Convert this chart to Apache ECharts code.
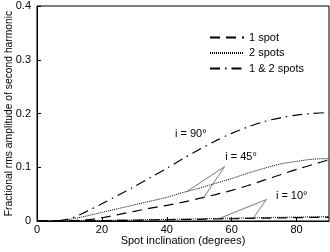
<!DOCTYPE html>
<html><head><meta charset="utf-8">
<script src="https://cdn.jsdelivr.net/npm/echarts@6/dist/echarts.min.js"></script>
<style>html,body{margin:0;padding:0;background:#fff}#c{width:330px;height:252px}</style>
</head><body><div id="c"></div>
<script>
var inclination = [0,5,10,15,20,25,30,35,40,45,50,55,60,65,70,75,80,85,90];
var both90 = [0,0,0.004,0.017,0.032,0.048,0.064,0.081,0.098,0.116,0.133,0.149,0.163,0.175,0.185,0.192,0.197,0.200,0.202];
var twoSpots45 = [0,0.0005,0.003,0.009,0.016,0.023,0.030,0.037,0.044,0.053,0.061,0.070,0.079,0.089,0.098,0.106,0.111,0.115,0.116];
var oneSpot45 = [0,0,0.0005,0.002,0.006,0.012,0.018,0.024,0.029,0.035,0.042,0.049,0.057,0.066,0.076,0.086,0.096,0.105,0.114];
var twoSpots10 = [0,0,0.0002,0.0006,0.001,0.0016,0.002,0.0027,0.003,0.0036,0.004,0.0047,0.0052,0.0058,0.0063,0.0069,0.0073,0.0077,0.008];
var oneSpot10 = [0,0,0.0001,0.0003,0.0006,0.001,0.0014,0.0019,0.0023,0.0028,0.0032,0.0037,0.0042,0.0047,0.0052,0.0057,0.0062,0.0066,0.007];
var yTicks = [0,0.1,0.2,0.3,0.4];
var xTicks = [0,20,40,60,80];
var legendNames = ['1 spot','2 spots','1 & 2 spots'];
var labelTexts = ['i = 90\u00b0','i = 45\u00b0','i = 10\u00b0'];
var labelCoords = [[47.4,0.162],[62.9,0.119],[78.5,0.0465]];
var leaders45 = [[[57.8,0.101],[46.1,0.0545]],[[57.8,0.101],[51.2,0.042]]];
var leaders10 = [[[70.7,0.040],[56.3,0.005]],[[70.7,0.040],[66.6,0.005]]];

function pairs(ys){return inclination.map(function(x,i){return [x,ys[i]];});}
var FONT = 'Liberation Sans';
var dashStyle = {color:'#000',width:1.2,type:[10,6]};
var dotStyle = {color:'#000',width:1,type:[1,1]};
var dashDotStyle = {color:'#000',width:1.2,type:[10,5,1.5,5]};
function lineSeries(name, ys, style, extra){
  var s = {name:name,type:'line',data:pairs(ys),showSymbol:false,symbol:'none',smooth:0.3,
    lineStyle:style,itemStyle:{color:'#000'},silent:true,animation:false,z:3};
  if(extra){for(var k in extra){s[k]=extra[k];}}
  return s;
}
var leaderData = leaders45.concat(leaders10).map(function(p){return [{coord:p[0]},{coord:p[1]}];});
var chart = echarts.init(document.getElementById('c'),null,{renderer:'canvas'});
chart.setOption({
  animation:false,
  textStyle:{fontFamily:FONT},
  grid:{left:37,right:1,top:6,bottom:31,show:true,borderColor:'#000',borderWidth:1,containLabel:false,outerBoundsMode:'none'},
  legend:{data:legendNames,orient:'vertical',left:204,top:27,itemWidth:34,itemHeight:11,itemGap:4.5,
    itemStyle:{opacity:0,borderWidth:0},
    textStyle:{fontFamily:FONT,fontSize:11,color:'#000'},selectedMode:false},
  xAxis:{type:'value',min:0,max:90,interval:20,
    name:'Spot inclination (degrees)',nameLocation:'middle',nameGap:14,nameMoveOverlap:false,
    nameTextStyle:{fontFamily:FONT,fontSize:11,color:'#000'},
    axisLine:{lineStyle:{color:'#000',width:1}},
    axisTick:{inside:true,length:4,lineStyle:{color:'#000'}},
    axisLabel:{margin:3,fontFamily:FONT,fontSize:11,color:'#000',showMaxLabel:false,
      formatter:function(v){return xTicks.indexOf(v)>=0?String(v):'';}},
    splitLine:{show:false}},
  yAxis:{type:'value',min:0,max:0.4,interval:0.1,
    name:'Fractional rms amplitude of second harmonic',nameLocation:'middle',nameGap:23,nameMoveOverlap:false,
    nameTextStyle:{fontFamily:FONT,fontSize:10.3,color:'#000'},
    axisLine:{show:true,lineStyle:{color:'#000',width:1}},
    axisTick:{show:true,inside:true,length:4,lineStyle:{color:'#000'}},
    axisLabel:{margin:6,fontFamily:FONT,fontSize:11,color:'#000',
      formatter:function(v){var t=yTicks.filter(function(y){return Math.abs(y-v)<1e-9;});return t.length?String(t[0]):'';}},
    splitLine:{show:false}},
  series:[
    lineSeries('1 spot', oneSpot45, dashStyle),
    lineSeries('2 spots', twoSpots45, dotStyle, {
      markLine:{silent:true,symbol:['none','none'],label:{show:false},
        lineStyle:{color:'#555',width:0.8,type:'solid'},data:leaderData,animation:false}
    }),
    lineSeries('1 & 2 spots', both90, dashDotStyle, {
      markPoint:{silent:true,symbol:'rect',symbolSize:1,itemStyle:{color:'rgba(0,0,0,0)'},
        label:{show:true,position:'inside',fontFamily:FONT,fontSize:11,color:'#000',formatter:function(p){return p.name;}},
        data:labelCoords.map(function(c,i){return {name:labelTexts[i],coord:c};}),animation:false}
    }),
    lineSeries('1 spot', oneSpot10, dashStyle),
    lineSeries('2 spots', twoSpots10, dotStyle)
  ]
});
</script></body></html>
